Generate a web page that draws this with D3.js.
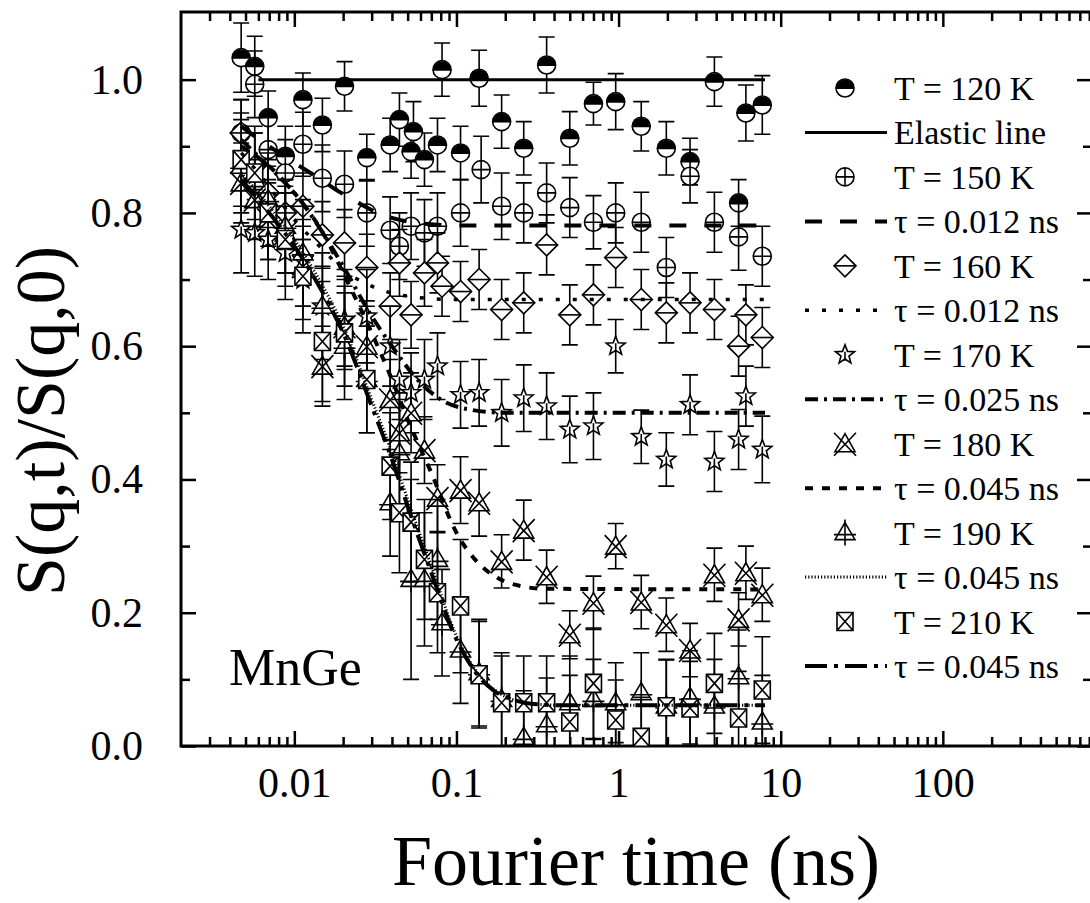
<!DOCTYPE html>
<html>
<head>
<meta charset="utf-8">
<script src="https://cdn.jsdelivr.net/npm/d3@7"></script>
<style>
  body { margin: 0; background: #fff; }
  svg { display: block; font-family: "Liberation Serif", "Times New Roman", serif; }
</style>
</head>
<body>
<div id="container"></div>
<script>
"use strict";

// [Fourier time (ns), S(q,t)/S(q,0), error]
var T120 = [[0.0047,1.033,0.052],[0.0057,1.02,0.045],[0.0069,0.943,0.04],[0.0088,0.885,0.045],[0.0113,0.97,0.04],[0.0149,0.932,0.04],[0.0204,0.99,0.037],[0.028,0.883,0.035],[0.039,0.902,0.04],[0.0445,0.94,0.04],[0.0525,0.892,0.04],[0.0543,0.922,0.045],[0.0635,0.88,0.04],[0.0764,0.902,0.04],[0.0815,1.015,0.04],[0.106,0.89,0.04],[0.138,1.002,0.042],[0.19,0.937,0.04],[0.26,0.897,0.04],[0.36,1.022,0.042],[0.5,0.912,0.04],[0.7,0.964,0.032],[0.96,0.967,0.042],[1.38,0.93,0.037],[1.97,0.897,0.04],[2.76,0.877,0.035],[3.9,0.997,0.037],[5.5,0.815,0.035],[6.1,0.95,0.042],[7.7,0.962,0.044]]
var T150 = [[0.0047,0.92,0.05],[0.0057,0.993,0.05],[0.0069,0.895,0.05],[0.0088,0.86,0.05],[0.0113,0.903,0.048],[0.0149,0.852,0.05],[0.0204,0.843,0.05],[0.028,0.80,0.05],[0.039,0.774,0.05],[0.0445,0.75,0.05],[0.0525,0.78,0.05],[0.0635,0.77,0.05],[0.0764,0.78,0.05],[0.106,0.80,0.05],[0.142,0.865,0.05],[0.19,0.81,0.05],[0.26,0.80,0.045],[0.36,0.83,0.045],[0.5,0.808,0.045],[0.7,0.786,0.04],[0.96,0.80,0.045],[1.38,0.786,0.045],[1.97,0.718,0.045],[2.76,0.855,0.04],[3.9,0.786,0.045],[5.5,0.764,0.05],[7.7,0.735,0.045]]
var T160 = [[0.0047,0.92,0.05],[0.0057,0.87,0.05],[0.0069,0.83,0.05],[0.0088,0.80,0.05],[0.0113,0.81,0.05],[0.0149,0.767,0.05],[0.0204,0.755,0.05],[0.028,0.718,0.05],[0.039,0.66,0.05],[0.0445,0.725,0.05],[0.0525,0.647,0.05],[0.0635,0.71,0.05],[0.0764,0.725,0.045],[0.0815,0.69,0.045],[0.106,0.682,0.045],[0.138,0.70,0.045],[0.19,0.655,0.045],[0.26,0.665,0.045],[0.36,0.752,0.045],[0.5,0.647,0.045],[0.7,0.677,0.045],[0.96,0.733,0.045],[1.38,0.67,0.045],[1.97,0.65,0.045],[2.76,0.665,0.045],[3.9,0.655,0.045],[5.5,0.60,0.045],[6.1,0.647,0.045],[7.7,0.613,0.045]]
var T170 = [[0.0047,0.775,0.065],[0.0057,0.77,0.065],[0.0069,0.76,0.06],[0.0088,0.74,0.07],[0.0113,0.70,0.06],[0.0149,0.66,0.06],[0.0204,0.64,0.075],[0.028,0.645,0.07],[0.039,0.60,0.06],[0.0445,0.55,0.06],[0.0525,0.53,0.06],[0.0635,0.55,0.06],[0.0764,0.57,0.05],[0.106,0.527,0.05],[0.138,0.53,0.05],[0.19,0.50,0.05],[0.26,0.522,0.05],[0.36,0.51,0.05],[0.5,0.475,0.05],[0.7,0.48,0.05],[0.96,0.60,0.04],[1.38,0.464,0.04],[1.97,0.43,0.04],[2.76,0.512,0.045],[3.9,0.427,0.045],[5.5,0.46,0.045],[6.1,0.525,0.045],[7.7,0.445,0.05]]
var T180 = [[0.0047,0.845,0.06],[0.0057,0.82,0.06],[0.0069,0.79,0.06],[0.0088,0.77,0.06],[0.0113,0.72,0.06],[0.0149,0.57,0.06],[0.0204,0.63,0.06],[0.028,0.60,0.06],[0.039,0.52,0.06],[0.0445,0.47,0.06],[0.0525,0.50,0.06],[0.0635,0.444,0.05],[0.0764,0.372,0.05],[0.106,0.384,0.05],[0.138,0.365,0.05],[0.19,0.277,0.04],[0.26,0.324,0.045],[0.36,0.254,0.04],[0.5,0.167,0.036],[0.7,0.215,0.04],[0.96,0.30,0.034],[1.38,0.216,0.04],[1.97,0.182,0.04],[2.76,0.144,0.04],[3.9,0.257,0.04],[5.5,0.19,0.04],[6.1,0.26,0.04],[7.7,0.227,0.04]]
var T190 = [[0.0047,0.87,0.07],[0.0057,0.85,0.07],[0.0069,0.82,0.07],[0.0088,0.78,0.07],[0.0113,0.74,0.08],[0.0149,0.66,0.08],[0.0204,0.60,0.08],[0.028,0.55,0.08],[0.039,0.365,0.08],[0.0445,0.44,0.08],[0.0525,0.25,0.15],[0.0635,0.25,0.1],[0.0764,0.28,0.09],[0.0815,0.185,0.08],[0.106,0.144,0.08],[0.138,0.11,0.08],[0.19,0.07,0.07],[0.26,0.013,0.07],[0.36,0.032,0.07],[0.5,0.065,0.07],[0.7,0.07,0.06],[0.96,0.065,0.06],[1.38,0.08,0.06],[1.97,0.06,0.07],[2.76,0.073,0.07],[3.9,0.06,0.07],[5.5,0.104,0.07],[7.7,0.036,0.07]]
var T210 = [[0.0047,0.88,0.07],[0.0057,0.86,0.07],[0.0069,0.80,0.07],[0.0088,0.76,0.07],[0.0113,0.705,0.085],[0.0149,0.607,0.09],[0.0204,0.62,0.08],[0.028,0.55,0.08],[0.039,0.42,0.08],[0.0445,0.35,0.09],[0.0525,0.336,0.09],[0.0635,0.28,0.09],[0.0764,0.23,0.09],[0.106,0.21,0.1],[0.138,0.107,0.08],[0.19,0.065,0.07],[0.26,0.065,0.07],[0.36,0.065,0.07],[0.5,0.036,0.07],[0.7,0.094,0.083],[0.96,0.039,0.06],[1.38,0.013,0.06],[1.97,0.059,0.07],[2.76,0.057,0.07],[3.9,0.094,0.075],[5.5,0.042,0.07],[7.7,0.084,0.08]]

// lines: [t, value]
var elastic = [[0.006,1.0],[8,1.0]]
var fit150 = [[0.0047,0.93],[0.0057,0.915],[0.0075,0.895],[0.01,0.875],[0.0115,0.866],[0.015,0.848],[0.018,0.835],[0.023,0.82],[0.028,0.808],[0.037,0.795],[0.05,0.787],[0.07,0.783],[0.1,0.781],[8,0.781]]
var fit160 = [[0.0047,0.89],[0.006,0.86],[0.008,0.82],[0.01,0.79],[0.015,0.745],[0.02,0.715],[0.03,0.69],[0.05,0.675],[0.1,0.67],[8,0.67]]
var fit170 = [[0.0047,0.91],[0.006,0.885],[0.008,0.855],[0.01,0.83],[0.015,0.77],[0.02,0.72],[0.03,0.645],[0.04,0.6],[0.06,0.545],[0.08,0.52],[0.12,0.505],[0.2,0.5],[8,0.5]]
var fit180 = [[0.0047,0.9],[0.007,0.87],[0.01,0.83],[0.015,0.77],[0.02,0.71],[0.03,0.62],[0.04,0.55],[0.05,0.49],[0.07,0.41],[0.1,0.32],[0.13,0.28],[0.18,0.252],[0.25,0.24],[0.35,0.236],[8,0.235]]
var fit190 = [[0.0047,0.86],[0.007,0.81],[0.01,0.76],[0.015,0.69],[0.02,0.63],[0.03,0.52],[0.04,0.44],[0.05,0.37],[0.07,0.27],[0.1,0.165],[0.13,0.115],[0.17,0.085],[0.22,0.07],[0.3,0.063],[0.5,0.061],[8,0.061]]
var fit210 = [[0.0047,0.85],[0.007,0.80],[0.01,0.75],[0.015,0.68],[0.02,0.62],[0.03,0.51],[0.04,0.43],[0.05,0.36],[0.07,0.26],[0.1,0.16],[0.13,0.112],[0.17,0.083],[0.22,0.07],[0.3,0.063],[0.5,0.061],[8,0.061]]

var legendLabels = ["T = 120 K","Elastic line","T = 150 K","\u03c4 = 0.012 ns","T = 160 K","\u03c4 = 0.012 ns","T = 170 K","\u03c4 = 0.025 ns","T = 180 K","\u03c4 = 0.045 ns","T = 190 K","\u03c4 = 0.045 ns","T = 210 K","\u03c4 = 0.045 ns"]
var xTicks = [0.01,0.1,1,10,100]
var xTickLabels = ["0.01","0.1","1","10","100"]
var yTicks = [0,0.2,0.4,0.6,0.8,1.0]
var yTickLabels = ["0.0","0.2","0.4","0.6","0.8","1.0"]

var WIDTH = 1090
var HEIGHT = 903
var pLeft = 181, pRight = 1092, pTop = 12, pBottom = 746

var svg = d3.select('div#container').append('svg')
  .attr('width', WIDTH)
  .attr('height', HEIGHT)

var x = d3.scaleLog().domain([0.002, 832]).range([pLeft, pRight])
var y = d3.scaleLinear().domain([0, 1.1]).range([pBottom, pTop + 1])

svg.append('defs').append('clipPath').attr('id', 'plotclip')
  .append('rect').attr('x', pLeft).attr('y', pTop).attr('width', pRight - pLeft).attr('height', pBottom - pTop)

// minor ticks
var minorX = []
for (var dec = -3; dec < 3; dec++) {
  for (var m = 2; m <= 9; m++) {
    var mv = m * Math.pow(10, dec)
    if (mv > 0.0025 && mv < 830) minorX.push(mv)
  }
}
var minorY = [0.1,0.3,0.5,0.7,0.9]

function styleAxis(g) {
  g.select('.domain').remove()
  g.selectAll('line').attr('stroke', '#000').attr('stroke-width', 2.5)
  g.selectAll('text').attr('fill', '#000').attr('font-size', 42)
    .attr('font-family', '"Liberation Serif", "Times New Roman", serif')
}

svg.append('g').attr('transform', 'translate(0,' + pBottom + ')')
  .call(d3.axisBottom(x).tickValues(xTicks).tickFormat(function (d, i) { return xTickLabels[i] })
    .tickSizeInner(-15).tickSizeOuter(0).tickPadding(21))
  .call(styleAxis)
svg.append('g').attr('transform', 'translate(0,' + pBottom + ')')
  .call(d3.axisBottom(x).tickValues(minorX).tickFormat('').tickSizeInner(-9).tickSizeOuter(0))
  .call(styleAxis)
svg.append('g').attr('transform', 'translate(0,' + pTop + ')')
  .call(d3.axisTop(x).tickValues(xTicks).tickFormat('').tickSizeInner(-15).tickSizeOuter(0))
  .call(styleAxis)
svg.append('g').attr('transform', 'translate(0,' + pTop + ')')
  .call(d3.axisTop(x).tickValues(minorX).tickFormat('').tickSizeInner(-9).tickSizeOuter(0))
  .call(styleAxis)

svg.append('g').attr('transform', 'translate(' + pLeft + ',0)')
  .call(d3.axisLeft(y).tickValues(yTicks).tickFormat(function (d, i) { return yTickLabels[i] })
    .tickSizeInner(-15).tickSizeOuter(0).tickPadding(38))
  .call(styleAxis)
svg.append('g').attr('transform', 'translate(' + pLeft + ',0)')
  .call(d3.axisLeft(y).tickValues(minorY).tickFormat('').tickSizeInner(-9).tickSizeOuter(0))
  .call(styleAxis)
svg.append('g').attr('transform', 'translate(' + pRight + ',0)')
  .call(d3.axisRight(y).tickValues(yTicks).tickFormat('').tickSizeInner(-15).tickSizeOuter(0))
  .call(styleAxis)
svg.append('g').attr('transform', 'translate(' + pRight + ',0)')
  .call(d3.axisRight(y).tickValues(minorY).tickFormat('').tickSizeInner(-9).tickSizeOuter(0))
  .call(styleAxis)

svg.append('rect')
  .attr('x', pLeft).attr('y', pTop).attr('width', pRight - pLeft).attr('height', pBottom - pTop)
  .attr('fill', 'none').attr('stroke', '#000').attr('stroke-width', 3)

// symbols
function starPath(ro, ri) {
  var p = []
  for (var k = 0; k < 10; k++) {
    var a = -Math.PI / 2 + k * Math.PI / 5
    var r = k % 2 === 0 ? ro : ri
    p.push((r * Math.cos(a)).toFixed(2) + ',' + (r * Math.sin(a)).toFixed(2))
  }
  return 'M' + p.join('L') + 'Z'
}

function drawSymbol(g, kind) {
  var sw = 1.6
  if (kind === 'half') {
    g.append('circle').attr('r', 9).attr('fill', '#fff').attr('stroke', '#000').attr('stroke-width', sw)
    g.append('path').attr('d', 'M-9.5,1A9.5,9.5 0 0 1 9.5,1Z').attr('fill', '#000')
  } else if (kind === 'cplus') {
    g.append('circle').attr('r', 9).attr('fill', '#fff').attr('stroke', '#000').attr('stroke-width', sw)
    g.append('path').attr('d', 'M-9,0H9M0,-9V9').attr('stroke', '#000').attr('stroke-width', sw)
  } else if (kind === 'diamond') {
    g.append('path').attr('d', 'M0,-11L11,0L0,11L-11,0Z').attr('fill', '#fff').attr('stroke', '#000').attr('stroke-width', sw)
    g.append('path').attr('d', 'M-11,0H11').attr('stroke', '#000').attr('stroke-width', sw)
  } else if (kind === 'star') {
    g.append('path').attr('d', starPath(10, 4.2)).attr('fill', '#fff').attr('stroke', '#000').attr('stroke-width', sw)
    g.append('path').attr('d', 'M0,-3V6').attr('stroke', '#000').attr('stroke-width', sw)
  } else if (kind === 'trix') {
    g.append('path').attr('d', 'M0,-10L10,8L-10,8Z').attr('fill', '#fff').attr('stroke', '#000').attr('stroke-width', sw)
    g.append('path').attr('d', 'M-11,-11L11,12M11,-11L-11,12').attr('stroke', '#000').attr('stroke-width', sw)
  } else if (kind === 'triline') {
    g.append('path').attr('d', 'M0,-10L10,7L-10,7Z').attr('fill', '#fff').attr('stroke', '#000').attr('stroke-width', sw)
    g.append('path').attr('d', 'M0,-13V13M-11,2H11').attr('stroke', '#000').attr('stroke-width', sw)
  } else if (kind === 'sqx') {
    g.append('path').attr('d', 'M-8,-9H8V9H-8Z').attr('fill', '#fff').attr('stroke', '#000').attr('stroke-width', sw)
    g.append('path').attr('d', 'M-8,-9L8,9M8,-9L-8,9').attr('stroke', '#000').attr('stroke-width', sw)
  }
}

var series = [
  { data: T120, kind: 'half' },
  { data: T150, kind: 'cplus' },
  { data: T160, kind: 'diamond' },
  { data: T170, kind: 'star' },
  { data: T180, kind: 'trix' },
  { data: T190, kind: 'triline' },
  { data: T210, kind: 'sqx' }
]

var plot = svg.append('g').attr('clip-path', 'url(#plotclip)')

series.forEach(function (s) {
  var g = plot.append('g')
  s.data.forEach(function (d) {
    var px = x(d[0])
    var y0 = y(d[1] - d[2]), y1 = y(d[1] + d[2])
    g.append('path')
      .attr('d', 'M' + px + ',' + y0 + 'V' + y1 + 'M' + (px - 8) + ',' + y0 + 'H' + (px + 8) + 'M' + (px - 8) + ',' + y1 + 'H' + (px + 8))
      .attr('stroke', '#000').attr('stroke-width', 1.6).attr('fill', 'none')
  })
  s.data.forEach(function (d) {
    var sg = g.append('g').attr('transform', 'translate(' + x(d[0]) + ',' + y(d[1]) + ')')
    drawSymbol(sg, s.kind)
  })
})

var lines = [
  { data: elastic, dash: null, w: 3 },
  { data: fit150, dash: '17,18', w: 4 },
  { data: fit160, dash: '4,13', w: 3.5 },
  { data: fit170, dash: '13,6,3,6', w: 4 },
  { data: fit180, dash: '8,9', w: 4 },
  { data: fit190, dash: '1.2,2', w: 3 },
  { data: fit210, dash: '22,7,4,7', w: 4 }
]

var line = d3.line()
  .x(function (d) { return x(d[0]) })
  .y(function (d) { return y(d[1]) })
  .curve(d3.curveMonotoneX)

lines.forEach(function (l) {
  plot.append('path')
    .attr('d', line(l.data))
    .attr('fill', 'none').attr('stroke', '#000').attr('stroke-width', l.w)
    .attr('stroke-dasharray', l.dash)
})

// legend
var legend = svg.append('g')
var rowY = d3.scaleLinear().domain([0, 13]).range([88, 666])
legendLabels.forEach(function (label, i) {
  var ry = rowY(i)
  if (i % 2 === 0) {
    var sg = legend.append('g').attr('transform', 'translate(845,' + ry + ')')
    drawSymbol(sg, series[i / 2].kind)
  } else {
    var l = lines[(i - 1) / 2]
    legend.append('path')
      .attr('d', 'M805,' + ry + 'H887')
      .attr('stroke', '#000').attr('stroke-width', l.w).attr('stroke-dasharray', l.dash)
  }
  legend.append('text')
    .attr('x', 894).attr('y', ry + 12)
    .attr('font-size', 34).attr('fill', '#000')
    .text(label)
})

svg.append('text')
  .attr('x', 229).attr('y', 685)
  .attr('font-size', 52).attr('fill', '#000')
  .text('MnGe')

svg.append('text')
  .attr('x', 636).attr('y', 885)
  .attr('text-anchor', 'middle')
  .attr('font-size', 72).attr('fill', '#000')
  .text('Fourier time (ns)')

svg.append('text')
  .attr('transform', 'translate(64,421) rotate(-90)')
  .attr('text-anchor', 'middle')
  .attr('font-size', 70).attr('fill', '#000')
  .text('S(q,t)/S(q,0)')
</script>
</body>
</html>
